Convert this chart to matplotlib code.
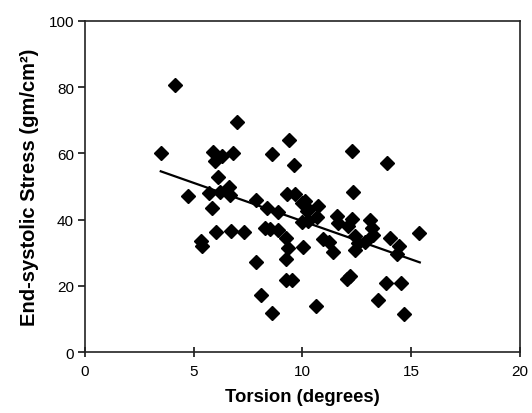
import numpy as np
import matplotlib
matplotlib.use("Agg")
import matplotlib.pyplot as plt

plt.rcParams['font.family'] = ['Liberation Sans', 'DejaVu Sans']

# torsion (degrees) and end-systolic stress (gm/cm2)
torsion = [3.48, 4.14, 4.74, 5.32, 5.36, 5.70, 5.82, 5.90, 5.98, 6.01,
           6.13, 6.20, 6.28, 6.62, 6.67, 6.70, 6.82, 7.00, 7.32, 7.87,
           7.85, 8.08, 8.28, 8.38, 8.49, 8.58, 8.61, 8.86, 8.86, 9.23,
           9.23, 9.23, 9.27, 9.35, 9.39, 9.50, 9.62, 9.66, 9.96, 9.96,
           10.03, 10.11, 10.19, 10.27, 10.27, 10.62, 10.68, 10.72, 10.96, 11.20,
           11.42, 11.58, 11.63, 12.03, 12.18, 12.10, 12.26, 12.26, 12.31, 12.41,
           12.41, 12.57, 12.90, 13.10, 13.20, 13.26, 13.49, 13.84, 13.87, 14.02,
           14.33, 14.45, 14.53, 14.67, 15.37]
stress = [60.1, 80.8, 47.0, 33.6, 32.1, 48.2, 43.6, 60.3, 57.6, 36.2,
          53.0, 48.5, 59.1, 49.9, 47.3, 36.6, 60.0, 69.6, 36.3, 46.0,
          27.1, 17.3, 37.4, 43.4, 37.3, 11.8, 59.8, 36.9, 42.4, 34.4,
          28.1, 21.8, 47.7, 31.3, 64.0, 21.8, 56.5, 47.7, 39.4, 45.0,
          31.6, 45.7, 42.7, 43.2, 39.7, 14.0, 40.7, 44.2, 34.1, 33.2,
          30.1, 41.1, 39.1, 22.0, 23.0, 38.2, 40.3, 60.6, 48.4, 35.1,
          30.9, 33.1, 33.3, 39.9, 37.5, 35.3, 15.8, 20.8, 57.1, 34.5,
          29.6, 32.1, 20.8, 11.5, 36.0]

# regression line end points
fit_x = [3.48, 15.4]
fit_y = [54.6, 27.1]

fig = plt.figure(figsize=(5.32, 4.14), dpi=100)
ax = fig.add_axes([0.160, 0.147, 0.817, 0.800])

ax.plot(torsion, stress, ls='', marker='D', ms=7, color='black')
ax.plot(fit_x, fit_y, color='black', lw=1.6)

ax.set_xlim(0, 20)
ax.set_ylim(0, 100)
ax.set_xticks([0, 5, 10, 15, 20])
ax.set_yticks([0, 20, 40, 60, 80, 100])

for s in ax.spines.values():
    s.set_linewidth(1.2)
    s.set_color('#222222')

ax.tick_params(axis='y', direction='out', length=5, width=1.1, labelsize=11, pad=3)
ax.tick_params(axis='x', direction='inout', length=7, width=1.1, labelsize=11, pad=5)

ax.set_xlabel('Torsion (degrees)', fontsize=13.3, fontweight='bold', labelpad=7)
ax.set_ylabel('End-systolic Stress (gm/cm²)', fontsize=14.5, fontweight='bold', labelpad=7)

fig.savefig('out.png', dpi=100)
